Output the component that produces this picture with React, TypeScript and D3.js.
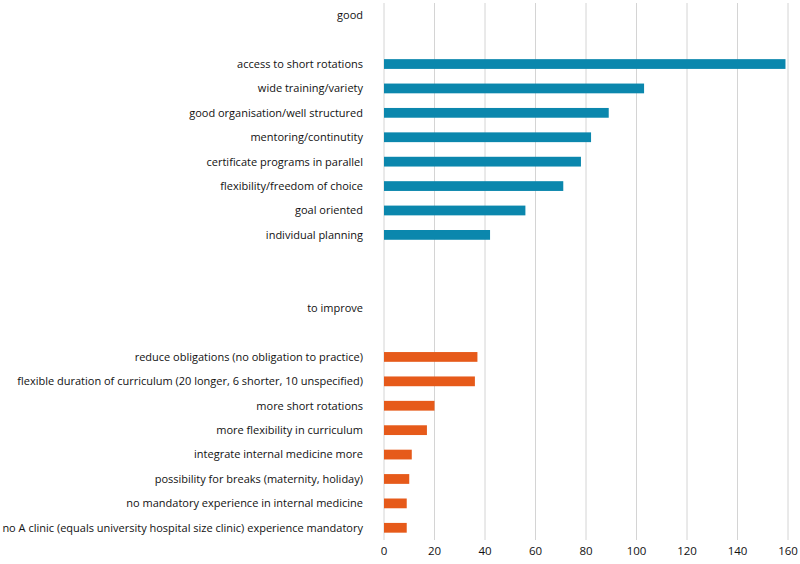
import React from "react";
import * as d3 from "d3";

const goodLabels = [
  "access to short rotations",
  "wide training/variety",
  "good organisation/well structured",
  "mentoring/continutity",
  "certificate programs in parallel",
  "flexibility/freedom of choice",
  "goal oriented",
  "individual planning",
];
const goodValues = [159, 103, 89, 82, 78, 71, 56, 42];

const improveLabels = [
  "reduce obligations (no obligation to practice)",
  "flexible duration of curriculum (20 longer, 6 shorter, 10 unspecified)",
  "more short rotations",
  "more flexibility in curriculum",
  "integrate internal medicine more",
  "possibility for breaks (maternity, holiday)",
  "no mandatory experience in internal medicine",
  "no A clinic (equals university hospital size clinic) experience mandatory",
];
const improveValues = [37, 36, 20, 17, 11, 10, 9, 9];

const xTicks = [0, 20, 40, 60, 80, 100, 120, 140, 160];

type Row = { label: string; value: number | null; group: string };

// headers and blank spacer rows as in the original layout
const rows: Row[] = [
  { label: "good", value: null, group: "" },
  { label: "", value: null, group: "" },
  ...goodLabels.map((l, i) => ({ label: l, value: goodValues[i], group: "good" })),
  { label: "", value: null, group: "" },
  { label: "", value: null, group: "" },
  { label: "to improve", value: null, group: "" },
  { label: "", value: null, group: "" },
  ...improveLabels.map((l, i) => ({ label: l, value: improveValues[i], group: "improve" })),
];

const colors: Record<string, string> = { good: "#0b87ad", improve: "#e65a1a" };

const width = 800;
const height = 564;
const margin = { top: 3, right: 12, bottom: 24, left: 384 };

export default function App() {
  const x = d3
    .scaleLinear()
    .domain([0, 160])
    .range([margin.left, width - margin.right]);

  const y = d3
    .scaleBand<number>()
    .domain(rows.map((_, i) => i))
    .range([margin.top, height - margin.bottom])
    .paddingInner(0.6)
    .paddingOuter(0.3);

  const font = "'Open Sans', 'Noto Sans', sans-serif";

  return (
    <svg
      width={width}
      height={height}
      style={{ position: "absolute", left: 0, top: 0, background: "#fff" }}
      fontFamily={font}
    >
      {xTicks.map((t) => (
        <g key={t}>
          <line
            x1={x(t)}
            x2={x(t)}
            y1={margin.top}
            y2={height - margin.bottom}
            stroke="#d4d4d4"
            strokeWidth={1}
          />
          <text
            x={x(t)}
            y={height - 9}
            textAnchor="middle"
            fontSize={11.5}
            fill="#111"
          >
            {t}
          </text>
        </g>
      ))}
      {rows.map((r, i) => {
        const cy = (y(i) ?? 0) + y.bandwidth() / 2;
        return (
          <g key={i}>
            {r.label && (
              <text
                x={margin.left - 21}
                y={cy}
                dy="0.35em"
                textAnchor="end"
                fontSize={11}
                fill="#111"
              >
                {r.label}
              </text>
            )}
            {r.value !== null && (
              <rect
                x={x(0)}
                y={y(i)}
                width={x(r.value) - x(0)}
                height={y.bandwidth()}
                fill={colors[r.group]}
              />
            )}
          </g>
        );
      })}
    </svg>
  );
}
